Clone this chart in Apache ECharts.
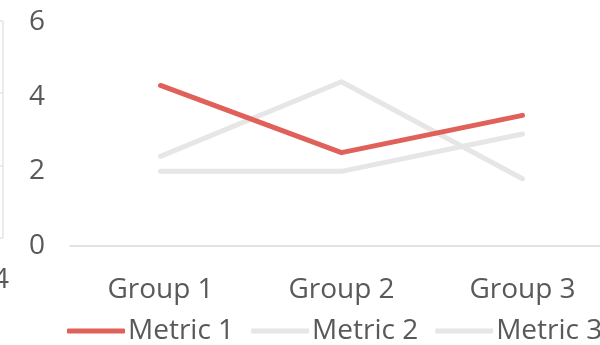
<!DOCTYPE html>
<html>
<head>
<meta charset="utf-8">
<script src="https://cdn.jsdelivr.net/npm/echarts@6/dist/echarts.min.js"></script>
<style>
  html, body { margin: 0; padding: 0; background: #fff; overflow: hidden; width: 600px; height: 345px; }
  #chart { width: 620px; height: 345px; }
</style>
</head>
<body>
<div id="chart"></div>
<script>
// Chart data
const categories = ['Group 1', 'Group 2', 'Group 3'];
const metric1 = [4.3, 2.5, 3.5];
const metric2 = [2.4, 4.4, 1.8];
const metric3 = [2.0, 2.0, 3.0];
const seriesNames = ['Metric 1', 'Metric 2', 'Metric 3'];
const yTicks = { min: 0, max: 6, interval: 2 };

const textColor = '#595959';
const font = 'Open Sans';
const colors = ['#E0605A', '#E6E6E6', '#E6E6E6'];

const chart = echarts.init(document.getElementById('chart'), null, { renderer: 'canvas' });

function lineSeries(name, data, color) {
  return {
    name: name,
    type: 'line',
    data: data,
    symbol: 'none',
    lineStyle: { color: color, width: 5, cap: 'round', join: 'round' },
    itemStyle: { color: color },
    emphasis: { disabled: true },
    z: name === 'Metric 1' ? 3 : 2
  };
}

chart.setOption({
  animation: false,
  backgroundColor: '#ffffff',
  grid: { left: 70, top: 22, width: 543, height: 224 },
  xAxis: {
    type: 'category',
    data: categories,
    boundaryGap: true,
    axisLine: { show: true, lineStyle: { color: '#D9D9D9', width: 1.5 } },
    axisTick: { show: false },
    axisLabel: { color: textColor, fontFamily: font, fontSize: 28, margin: 30 }
  },
  yAxis: {
    type: 'value',
    min: yTicks.min,
    max: yTicks.max,
    interval: yTicks.interval,
    axisLine: { show: false },
    axisTick: { show: false },
    splitLine: { show: false },
    axisLabel: { color: textColor, fontFamily: font, fontSize: 28, margin: 25 }
  },
  legend: {
    left: 62,
    top: 312,
    itemWidth: 58,
    itemHeight: 5,
    itemGap: 17,
    icon: 'roundRect',
    selectedMode: false,
    textStyle: { color: textColor, fontFamily: font, fontSize: 28, padding: [0, 0, 0, -2] },
    data: seriesNames
  },
  // Edge of the neighbouring panel on the left
  graphic: [
    {
      type: 'polyline',
      shape: { points: [[0, 21], [3, 21], [3, 238], [0, 238]] },
      style: { stroke: '#D9D9D9', lineWidth: 1, fill: null },
      silent: true
    },
    {
      type: 'line',
      shape: { x1: 0, y1: 93, x2: 3, y2: 93 },
      style: { stroke: '#D9D9D9', lineWidth: 1 },
      silent: true
    },
    {
      type: 'line',
      shape: { x1: 0, y1: 166, x2: 3, y2: 166 },
      style: { stroke: '#D9D9D9', lineWidth: 1 },
      silent: true
    },
    {
      type: 'text',
      left: -7,
      top: 266,
      style: { text: '4', fill: textColor, font: '28px "Open Sans"' },
      silent: true
    }
  ],
  series: [
    lineSeries(seriesNames[0], metric1, colors[0]),
    lineSeries(seriesNames[1], metric2, colors[1]),
    lineSeries(seriesNames[2], metric3, colors[2])
  ]
});
</script>
</body>
</html>
